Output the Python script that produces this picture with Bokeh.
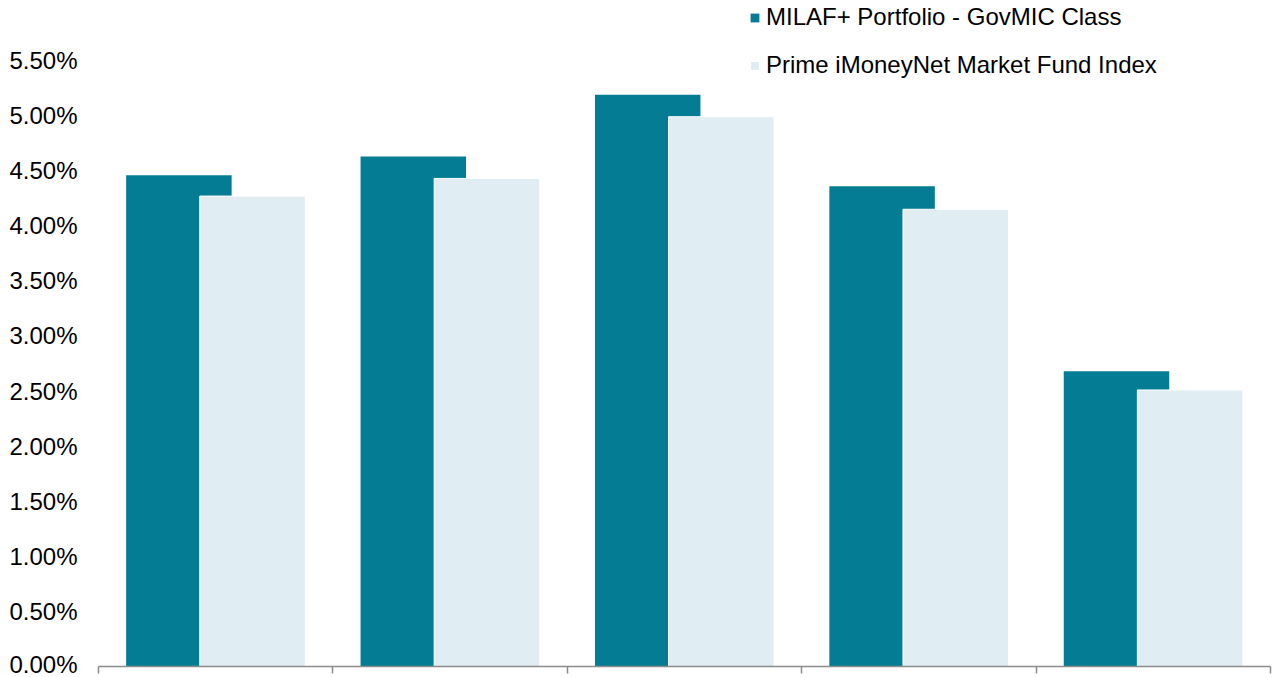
from bokeh.plotting import figure
from bokeh.models import (ColumnDataSource, Range1d, FixedTicker, PrintfTickFormatter,
                          Legend, LegendItem)
from bokeh.embed import file_html
from bokeh.resources import INLINE

# ---- data ----
categories = ["Period 1", "Period 2", "Period 3", "Period 4", "Period 5"]
milaf = [4.46, 4.63, 5.19, 4.36, 2.68]
prime = [4.27, 4.43, 4.99, 4.15, 2.51]
series_names = ["MILAF+ Portfolio - GovMIC Class", "Prime iMoneyNet Market Fund Index"]
y_ticks = [0.0, 0.5, 1.0, 1.5, 2.0, 2.5, 3.0, 3.5, 4.0, 4.5, 5.0, 5.5]

DARK = "#047C93"
LIGHT = "#E0EEF3"
FONT = "Liberation Sans"

idx = list(range(len(categories)))
src = ColumnDataSource(dict(
    cat=categories,
    xd=[i + 0.5 - 0.157 for i in idx],
    xl=[i + 0.5 + 0.157 for i in idx],
    milaf=milaf,
    prime=prime,
))

p = figure(width=1277, height=677, output_backend="svg", toolbar_location=None,
           x_range=Range1d(0, len(categories)), y_range=Range1d(0, 6.045),
           min_border_left=98, min_border_right=7, min_border_top=0, min_border_bottom=11)
p.outline_line_color = None
p.grid.visible = False

r1 = p.vbar(x="xd", top="milaf", width=0.45, source=src, fill_color=DARK, line_color=None)
r2 = p.vbar(x="xl", top="prime", width=0.45, source=src, fill_color=LIGHT,
            line_color="white", line_width=1)

# y axis
p.yaxis.ticker = FixedTicker(ticks=y_ticks)
p.yaxis.formatter = PrintfTickFormatter(format="%.2f%%")
p.yaxis.axis_line_color = None
p.yaxis.major_tick_line_color = None
p.yaxis.minor_tick_line_color = None
p.yaxis.major_tick_out = 0
p.yaxis.major_tick_in = 0
p.yaxis.major_label_standoff = 21
p.yaxis.major_label_text_font = FONT
p.yaxis.major_label_text_font_size = "24px"
p.yaxis.major_label_text_color = "black"

# x axis: ticks at category boundaries, no labels
x_ticks = [float(i) for i in range(len(categories) + 1)]
p.xaxis.ticker = FixedTicker(ticks=x_ticks)
p.xaxis.major_label_overrides = {t: "" for t in x_ticks}
p.xaxis.axis_line_color = "#8C8C8C"
p.xaxis.axis_line_width = 1.5
p.xaxis.major_tick_line_color = "#8C8C8C"
p.xaxis.major_tick_line_width = 1.5
p.xaxis.major_tick_out = 7
p.xaxis.major_tick_in = 0
p.xaxis.minor_tick_line_color = None
p.xaxis.major_label_standoff = 0

legend = Legend(items=[LegendItem(label=series_names[0], renderers=[r1]),
                       LegendItem(label=series_names[1], renderers=[r2])],
                location=(651, 587), orientation="vertical",
                padding=0, margin=0, spacing=20,
                glyph_width=11, glyph_height=11, label_standoff=6,
                label_text_font=FONT, label_text_font_size="24px",
                label_text_color="black",
                border_line_color=None, background_fill_alpha=0)
p.add_layout(legend, "center")

open("out.html", "w").write(file_html(p, INLINE))
